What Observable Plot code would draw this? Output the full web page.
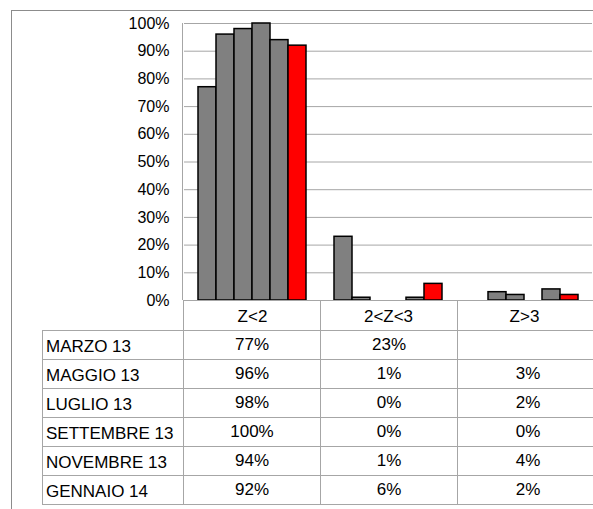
<!DOCTYPE html>
<html><head><meta charset="utf-8">
<script src="https://cdn.jsdelivr.net/npm/d3@7"></script>
<script src="https://cdn.jsdelivr.net/npm/@observablehq/plot@0.6"></script>
<style>
html,body{margin:0;padding:0;background:#fff;overflow:hidden}
#wrap{position:relative;width:593px;height:509px;font-family:"Liberation Sans",Arial,sans-serif;overflow:hidden;background:#fff}
#chart{position:absolute;left:0;top:0}
#chart svg{display:block}
#frame{position:absolute;left:11px;top:10px;width:620px;height:540px;border-left:1px solid #8c8c8c;border-top:1px solid #8c8c8c;pointer-events:none}
#yline{position:absolute;left:182px;top:23px;width:0;height:277px;border-left:1px solid #a6a6a6}
#tbl{position:absolute;left:42px;top:300px;border-collapse:collapse;table-layout:fixed;width:556px;font-size:17px;color:#000}
#tbl td{border:1px solid #a6a6a6;padding:0;height:28px;text-align:center;vertical-align:middle;line-height:18px;white-space:nowrap}
#tbl td.lab{text-align:left;padding-left:3px;padding-top:3px;height:25px}
#tbl tr.hdr td{height:29px}
#tbl tr.hdr td.blank{border-top:none;border-left:none}
</style>
</head><body>
<div id="wrap">
  <div id="chart"></div>
  <div id="yline"></div>
  <table id="tbl"></table>
  <div id="frame"></div>
</div>
<script>
// ---- data ----
const groups = ["Z<2", "2<Z<3", "Z>3"];
const series = ["MARZO 13", "MAGGIO 13", "LUGLIO 13", "SETTEMBRE 13", "NOVEMBRE 13", "GENNAIO 14"];
const zLt2 = [77, 96, 98, 100, 94, 92];
const z2to3 = [23, 1, 0, 0, 1, 6];
const zGt3 = [null, 3, 2, 0, 4, 2];
const yTicks = [0, 10, 20, 30, 40, 50, 60, 70, 80, 90, 100];

const valuesByGroup = [zLt2, z2to3, zGt3];
const rows = [];
groups.forEach((g, gi) => series.forEach((s, si) => {
  const v = valuesByGroup[gi][si];
  if (v != null && v > 0) rows.push({group: g, series: s, value: v});
}));

const chart = Plot.plot({
  width: 593, height: 330,
  marginLeft: 183, marginRight: 0, marginTop: 23, marginBottom: 30,
  style: {fontFamily: '"Liberation Sans", Arial, sans-serif', fontSize: "16px", color: "#000", background: "transparent", overflow: "visible"},
  fx: {domain: groups, padding: 0, label: null},
  x: {domain: series, paddingInner: 0, paddingOuter: 0.74, axis: null},
  y: {domain: [0, 100]},
  color: {domain: series, range: ["#808080", "#808080", "#808080", "#808080", "#808080", "#ff0000"]},
  marks: [
    Plot.gridY(yTicks, {stroke: "#a6a6a6", strokeOpacity: 1, strokeWidth: 1}),
    Plot.axisY(yTicks, {tickFormat: d => d + "%", tickSize: 0, tickPadding: 15, fontSize: 16, label: null}),
    Plot.axisFx({anchor: "bottom", tickSize: 0, tickPadding: 9, fontSize: 17, label: null}),
    Plot.barY(rows, {fx: "group", x: "series", y: "value", fill: "series", stroke: "#000", strokeWidth: 1.5})
  ]
});
document.getElementById("chart").appendChild(chart);

// ---- data table ----
const tbl = document.getElementById("tbl");
const colgroup = document.createElement("colgroup");
[141, 137, 137, 141].forEach(w => { const c = document.createElement("col"); c.style.width = w + "px"; colgroup.appendChild(c); });
tbl.appendChild(colgroup);
const hdr = document.createElement("tr");
hdr.className = "hdr";
const blank = document.createElement("td"); blank.className = "blank"; hdr.appendChild(blank);
groups.forEach(() => hdr.appendChild(document.createElement("td")));
tbl.appendChild(hdr);
const fmt = v => v == null ? "" : v + "%";
series.forEach((s, si) => {
  const tr = document.createElement("tr");
  const l = document.createElement("td"); l.className = "lab"; l.textContent = s; tr.appendChild(l);
  valuesByGroup.forEach(arr => { const td = document.createElement("td"); td.textContent = fmt(arr[si]); tr.appendChild(td); });
  tbl.appendChild(tr);
});
</script>
</body></html>
